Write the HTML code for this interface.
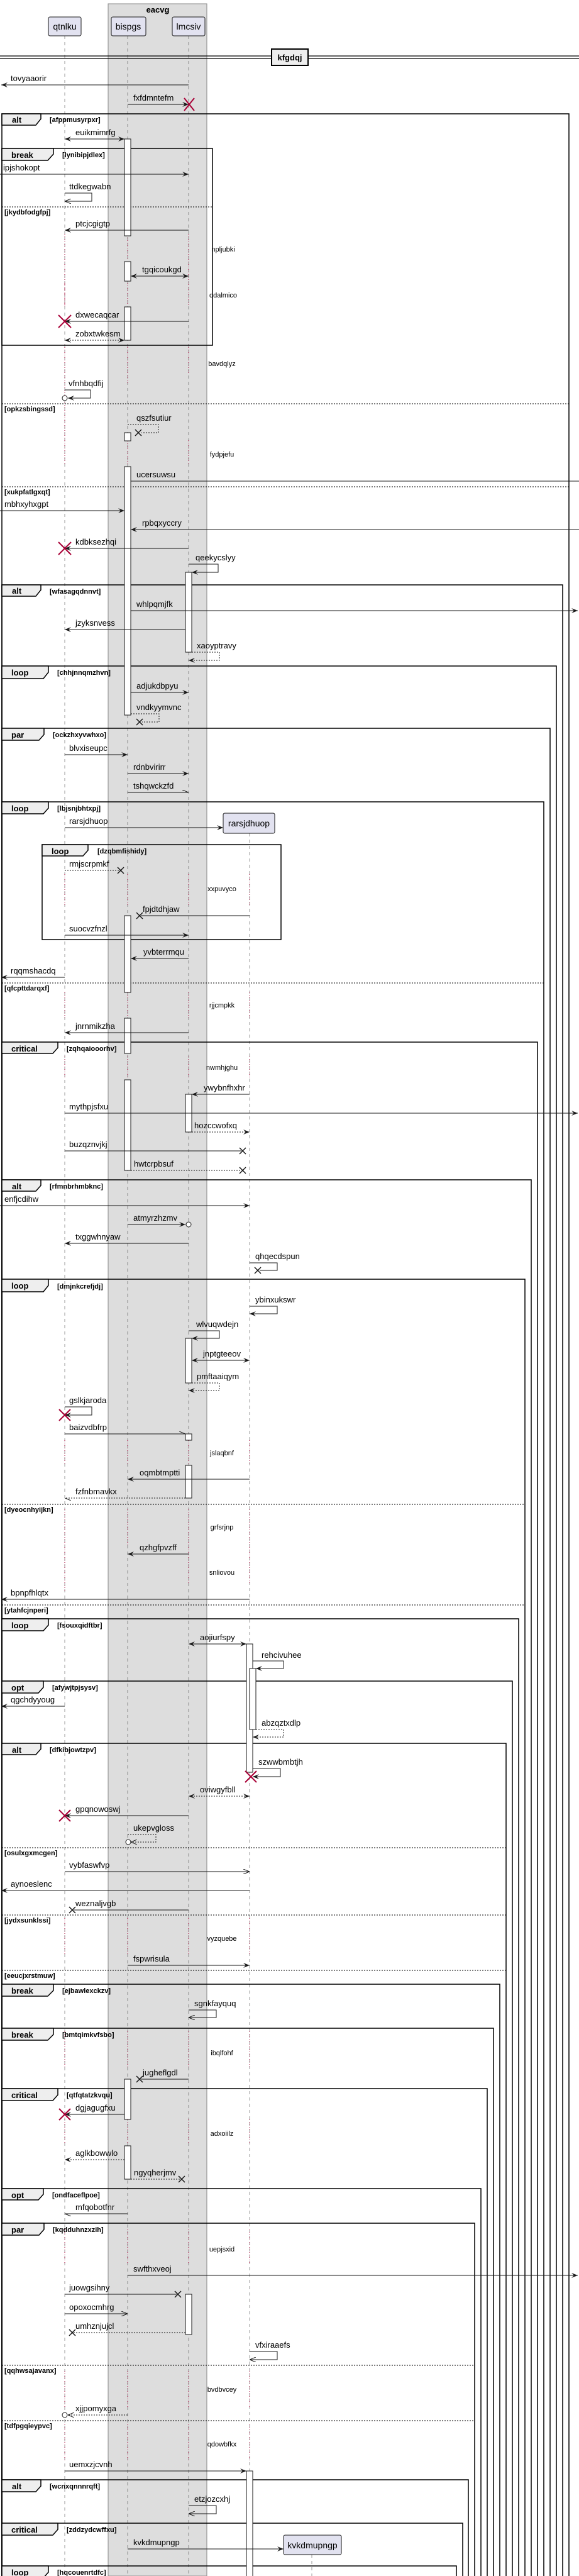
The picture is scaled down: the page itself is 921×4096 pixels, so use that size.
<!DOCTYPE html>
<html><head><meta charset="utf-8"><style>
html,body{margin:0;padding:0;background:#fff;width:921px;height:4096px;overflow:hidden}
svg{display:block;overflow:hidden}
text{font-family:"Liberation Sans",sans-serif;fill:#000}
.m{font-size:13px}
.d{font-size:11px}
.fl{font-size:13px;font-weight:bold}
.fc{font-size:11px;font-weight:bold}
.ln{stroke:#181818;stroke-width:1;fill:none}
.ds{stroke:#181818;stroke-width:1;fill:none;stroke-dasharray:2,2}
.ll{stroke:#555;stroke-width:0.6;stroke-dasharray:5,5}
.rd{stroke:#A80036;stroke-width:1;stroke-dasharray:1,3}
.fr{fill:none;stroke:#000;stroke-width:1.5}
.tab{fill:#EEEEEE;stroke:#000;stroke-width:1.5}
.sep{stroke:#000;stroke-width:1;stroke-dasharray:2,2}
.act{fill:#fff;stroke:#181818;stroke-width:1}
.xb{stroke:#181818;stroke-width:1.5}
.xr{stroke:#A80036;stroke-width:2}
</style></head><body>
<svg width="921" height="4096" viewBox="0 0 921 4096" xmlns="http://www.w3.org/2000/svg">
<defs>
<marker id="a" viewBox="0 0 10 8" refX="10" refY="4" markerWidth="10" markerHeight="8" orient="auto-start-reverse" markerUnits="userSpaceOnUse"><path d="M0,0 L10,4 L0,8 L4,4 Z" fill="#181818"/></marker>
<marker id="o" viewBox="0 0 10 8" refX="10" refY="4" markerWidth="10" markerHeight="8" orient="auto-start-reverse" markerUnits="userSpaceOnUse"><path d="M0,0 L10,4 L0,8" fill="none" stroke="#181818"/></marker>
<marker id="h" viewBox="0 0 10 8" refX="10" refY="4" markerWidth="10" markerHeight="8" orient="auto" markerUnits="userSpaceOnUse"><path d="M0,0 L10,4" fill="none" stroke="#181818"/></marker>
</defs>
<rect width="921" height="4096" fill="#fff"/>
<rect x="172" y="6" width="157" height="4090" fill="#DDDDDD" stroke="#888" stroke-width="1"/>
<text x="251" y="20" text-anchor="middle" class="fl">eacvg</text>
<line class="ll" x1="103" y1="57" x2="103" y2="4096"/>
<line class="ll" x1="203" y1="57" x2="203" y2="4096"/>
<line class="ll" x1="300" y1="57" x2="300" y2="4096"/>
<line class="ll" x1="397" y1="1325" x2="397" y2="4096"/>
<line class="ll" x1="496" y1="4062" x2="496" y2="4096"/>
<rect x="77" y="27" width="52" height="30" rx="2.5" fill="#E2E2F0" stroke="#181818"/>
<text x="103" y="47" text-anchor="middle" style="font-size:14px">qtnlku</text>
<rect x="177" y="27" width="55" height="30" rx="2.5" fill="#E2E2F0" stroke="#181818"/>
<text x="204" y="47" text-anchor="middle" style="font-size:14px">bispgs</text>
<rect x="274" y="27" width="52" height="30" rx="2.5" fill="#E2E2F0" stroke="#181818"/>
<text x="300" y="47" text-anchor="middle" style="font-size:14px">lmcsiv</text>
<rect x="355" y="1293" width="82" height="32" rx="2.5" fill="#E2E2F0" stroke="#181818"/>
<text x="396" y="1314" text-anchor="middle" style="font-size:14px">rarsjdhuop</text>
<rect x="451" y="4031" width="92" height="31" rx="2.5" fill="#E2E2F0" stroke="#181818"/>
<text x="497" y="4052" text-anchor="middle" style="font-size:14px">kvkdmupngp</text>

<line x1="0" y1="89" x2="921" y2="89" stroke="#000" stroke-width="1.2"/>
<line x1="0" y1="93" x2="921" y2="93" stroke="#000" stroke-width="1.2"/>
<rect x="432" y="78" width="58" height="26" fill="#EEEEEE" stroke="#000" stroke-width="2"/>
<text x="461" y="96" text-anchor="middle" class="fl">kfgdqj</text>

<g>
<line class="rd" x1="103" y1="372" x2="103" y2="486"/><line class="rd" x1="203" y1="378" x2="203" y2="414"/><line class="rd" x1="300" y1="372" x2="300" y2="486"/>
<line class="rd" x1="103" y1="450" x2="103" y2="490"/><line class="rd" x1="203" y1="450" x2="203" y2="486"/>
<line class="rd" x1="103" y1="548" x2="103" y2="740"/><line class="rd" x1="203" y1="548" x2="203" y2="610"/><line class="rd" x1="300" y1="548" x2="300" y2="596"/>
<line class="rd" x1="203" y1="701" x2="203" y2="740"/><line class="rd" x1="300" y1="700" x2="300" y2="740"/>
<line class="rd" x1="103" y1="1390" x2="103" y2="1440"/><line class="rd" x1="203" y1="1390" x2="203" y2="1440"/><line class="rd" x1="300" y1="1390" x2="300" y2="1440"/><line class="rd" x1="397" y1="1390" x2="397" y2="1440"/>
<line class="rd" x1="103" y1="1578" x2="103" y2="1620"/><line class="rd" x1="203" y1="1578" x2="203" y2="1618"/><line class="rd" x1="300" y1="1578" x2="300" y2="1620"/><line class="rd" x1="397" y1="1578" x2="397" y2="1620"/>
<line class="rd" x1="103" y1="1680" x2="103" y2="1715"/><line class="rd" x1="203" y1="1680" x2="203" y2="1715"/><line class="rd" x1="300" y1="1680" x2="300" y2="1715"/><line class="rd" x1="397" y1="1680" x2="397" y2="1715"/>
<line class="rd" x1="103" y1="2290" x2="103" y2="2330"/><line class="rd" x1="203" y1="2290" x2="203" y2="2330"/><line class="rd" x1="300" y1="2290" x2="300" y2="2330"/><line class="rd" x1="397" y1="2290" x2="397" y2="2330"/>
<line class="rd" x1="103" y1="2400" x2="103" y2="2530"/><line class="rd" x1="203" y1="2400" x2="203" y2="2460"/><line class="rd" x1="300" y1="2400" x2="300" y2="2520"/><line class="rd" x1="397" y1="2400" x2="397" y2="2520"/>
<line class="rd" x1="103" y1="3050" x2="103" y2="3110"/><line class="rd" x1="203" y1="3050" x2="203" y2="3110"/><line class="rd" x1="300" y1="3050" x2="300" y2="3110"/><line class="rd" x1="397" y1="3050" x2="397" y2="3110"/>
<line class="rd" x1="103" y1="3230" x2="103" y2="3290"/><line class="rd" x1="203" y1="3230" x2="203" y2="3290"/><line class="rd" x1="300" y1="3230" x2="300" y2="3290"/><line class="rd" x1="397" y1="3230" x2="397" y2="3290"/>
<line class="rd" x1="103" y1="3370" x2="103" y2="3410"/><line class="rd" x1="203" y1="3370" x2="203" y2="3410"/><line class="rd" x1="300" y1="3370" x2="300" y2="3410"/><line class="rd" x1="397" y1="3370" x2="397" y2="3410"/>
<line class="rd" x1="103" y1="3545" x2="103" y2="3600"/><line class="rd" x1="203" y1="3545" x2="203" y2="3600"/><line class="rd" x1="300" y1="3545" x2="300" y2="3600"/><line class="rd" x1="397" y1="3545" x2="397" y2="3600"/>
<line class="rd" x1="103" y1="3770" x2="103" y2="3830"/><line class="rd" x1="203" y1="3770" x2="203" y2="3830"/><line class="rd" x1="300" y1="3770" x2="300" y2="3830"/><line class="rd" x1="397" y1="3770" x2="397" y2="3830"/>
<line class="rd" x1="103" y1="3855" x2="103" y2="3915"/><line class="rd" x1="203" y1="3855" x2="203" y2="3915"/><line class="rd" x1="300" y1="3855" x2="300" y2="3915"/><line class="rd" x1="397" y1="3855" x2="397" y2="3915"/>
</g>
<g class="d" text-anchor="middle">
<text x="355" y="400">npljubki</text>
<text x="355" y="473">qdalmico</text>
<text x="353" y="582">bavdqlyz</text>
<text x="353" y="726">fydpjefu</text>
<text x="353" y="1417">xxpuvyco</text>
<text x="353" y="1602">rjjcmpkk</text>
<text x="353" y="1701">nwmhjghu</text>
<text x="353" y="2314">jslaqbnf</text>
<text x="353" y="2432">grfsrjnp</text>
<text x="353" y="2504">snliovou</text>
<text x="353" y="3086">vyzquebe</text>
<text x="353" y="3268">ibqlfohf</text>
<text x="353" y="3396">adxoiilz</text>
<text x="353" y="3580">uepjsxid</text>
<text x="353" y="3803">bvdbvcey</text>
<text x="353" y="3890">qdowbfkx</text>
</g>

<g>
<rect class="fr" x="3" y="181" width="902" height="3950"/><path class="tab" d="M3,181 H65 V189 L57,199 H3 Z"/><text class="fl" x="19" y="195">alt</text><text class="fc" x="79" y="194">[afppmusyrpxr]</text>
<line class="sep" x1="3" y1="642" x2="905" y2="642"/><text class="fc" x="7" y="654">[opkzsbingssd]</text>
<line class="sep" x1="3" y1="774" x2="905" y2="774"/><text class="fc" x="7" y="786">[xukpfatlgxqt]</text>
<rect class="fr" x="3" y="236" width="335" height="313"/><path class="tab" d="M3,236 H85 V245 L76,255 H3 Z"/><text class="fl" x="18" y="251">break</text><text class="fc" x="99" y="250">[lynibipjdlex]</text>
<line class="sep" x1="3" y1="329" x2="338" y2="329"/><text class="fc" x="7" y="341">[jkydbfodgfpj]</text>

<rect class="fr" x="3" y="930" width="892" height="3200"/><path class="tab" d="M3,930 H65 V938 L57,948 H3 Z"/><text class="fl" x="19" y="944">alt</text><text class="fc" x="79" y="944">[wfasagqdnnvt]</text>
<rect class="fr" x="3" y="1059" width="882" height="3100"/><path class="tab" d="M3,1059 H77 V1069 L69,1079 H3 Z"/><text class="fl" x="18" y="1074">loop</text><text class="fc" x="91" y="1073">[chhjnnqmzhvn]</text>
<rect class="fr" x="3" y="1158" width="872" height="3000"/><path class="tab" d="M3,1158 H70 V1168 L62,1177 H3 Z"/><text class="fl" x="18" y="1173">par</text><text class="fc" x="84" y="1172">[ockzhxyvwhxo]</text>
<rect class="fr" x="3" y="1275" width="862" height="2900"/><path class="tab" d="M3,1275 H77 V1285 L69,1294 H3 Z"/><text class="fl" x="18" y="1290">loop</text><text class="fc" x="91" y="1289">[lbjsnjbhtxpj]</text>
<line class="sep" x1="3" y1="1563" x2="865" y2="1563"/><text class="fc" x="7" y="1575">[qfcpttdarqxf]</text>
<rect class="fr" x="67" y="1343" width="380" height="151"/><path class="tab" d="M67,1343 H140 V1352 L132,1361 H67 Z"/><text class="fl" x="82" y="1358">loop</text><text class="fc" x="155" y="1357">[dzqbmfishidy]</text>
<rect class="fr" x="3" y="1657" width="852" height="2500"/><path class="tab" d="M3,1657 H92 V1666 L84,1675 H3 Z"/><text class="fl" x="18" y="1672">critical</text><text class="fc" x="106" y="1671">[zqhqaiooorhv]</text>
<rect class="fr" x="3" y="1876" width="842" height="2300"/><path class="tab" d="M3,1876 H65 V1885 L57,1894 H3 Z"/><text class="fl" x="19" y="1891">alt</text><text class="fc" x="79" y="1890">[rfmnbrhmbknc]</text>
<rect class="fr" x="3" y="2034" width="832" height="2200"/><path class="tab" d="M3,2034 H77 V2044 L69,2054 H3 Z"/><text class="fl" x="18" y="2049">loop</text><text class="fc" x="91" y="2049">[dmjnkcrefjdj]</text>
<line class="sep" x1="3" y1="2392" x2="835" y2="2392"/><text class="fc" x="7" y="2404">[dyeocnhyijkn]</text>
<line class="sep" x1="3" y1="2552" x2="835" y2="2552"/><text class="fc" x="7" y="2564">[ytahfcjnperi]</text>
<rect class="fr" x="3" y="2574" width="822" height="1600"/><path class="tab" d="M3,2574 H77 V2584 L69,2593 H3 Z"/><text class="fl" x="18" y="2589">loop</text><text class="fc" x="91" y="2588">[fsouxqidftbr]</text>
<rect class="fr" x="3" y="2673" width="812" height="1500"/><path class="tab" d="M3,2673 H69 V2683 L61,2692 H3 Z"/><text class="fl" x="18" y="2688">opt</text><text class="fc" x="83" y="2687">[afywjtpjsysv]</text>
<rect class="fr" x="3" y="2772" width="802" height="1400"/><path class="tab" d="M3,2772 H65 V2781 L57,2790 H3 Z"/><text class="fl" x="19" y="2787">alt</text><text class="fc" x="79" y="2786">[dfkibjowtzpv]</text>
<line class="sep" x1="3" y1="2938" x2="805" y2="2938"/><text class="fc" x="7" y="2950">[osulxgxmcgen]</text>
<line class="sep" x1="3" y1="3045" x2="805" y2="3045"/><text class="fc" x="7" y="3057">[jydxsunklssi]</text>
<line class="sep" x1="3" y1="3133" x2="805" y2="3133"/><text class="fc" x="7" y="3145">[eeucjxrstmuw]</text>
<rect class="fr" x="3" y="3155" width="792" height="1000"/><path class="tab" d="M3,3155 H85 V3165 L76,3174 H3 Z"/><text class="fl" x="18" y="3170">break</text><text class="fc" x="99" y="3169">[ejbawlexckzv]</text>
<rect class="fr" x="3" y="3225" width="782" height="1000"/><path class="tab" d="M3,3225 H85 V3235 L76,3244 H3 Z"/><text class="fl" x="18" y="3240">break</text><text class="fc" x="99" y="3239">[bmtqimkvfsbo]</text>
<rect class="fr" x="3" y="3321" width="772" height="900"/><path class="tab" d="M3,3321 H92 V3331 L84,3340 H3 Z"/><text class="fl" x="18" y="3336">critical</text><text class="fc" x="106" y="3335">[qtfqtatzkvqu]</text>
<rect class="fr" x="3" y="3480" width="762" height="700"/><path class="tab" d="M3,3480 H69 V3489 L61,3498 H3 Z"/><text class="fl" x="18" y="3495">opt</text><text class="fc" x="83" y="3494">[ondfaceflpoe]</text>
<rect class="fr" x="3" y="3535" width="752" height="700"/><path class="tab" d="M3,3535 H70 V3545 L62,3554 H3 Z"/><text class="fl" x="18" y="3550">par</text><text class="fc" x="84" y="3549">[kqdduhnzxzih]</text>
<line class="sep" x1="3" y1="3761" x2="755" y2="3761"/><text class="fc" x="7" y="3773">[qqhwsajavanx]</text>
<line class="sep" x1="3" y1="3849" x2="755" y2="3849"/><text class="fc" x="7" y="3861">[tdfpgqieypvc]</text>
<rect class="fr" x="3" y="3943" width="742" height="200"/><path class="tab" d="M3,3943 H65 V3953 L57,3962 H3 Z"/><text class="fl" x="19" y="3958">alt</text><text class="fc" x="79" y="3957">[wcnxqnnnrqft]</text>
<rect class="fr" x="3" y="4012" width="733" height="150"/><path class="tab" d="M3,4012 H92 V4022 L84,4031 H3 Z"/><text class="fl" x="18" y="4027">critical</text><text class="fc" x="106" y="4026">[zddzydcwffxu]</text>
<rect class="fr" x="3" y="4080" width="723" height="80"/><path class="tab" d="M3,4080 H77 V4090 L69,4099 H3 Z"/><text class="fl" x="18" y="4095">loop</text><text class="fc" x="91" y="4094">[hqcouenrtdfc]</text>
</g>

<g>
<rect class="act" x="198" y="221" width="10" height="154"/>
<rect class="act" x="198" y="416" width="10" height="31"/>
<rect class="act" x="198" y="488" width="10" height="53"/>
<rect class="act" x="198" y="688" width="10" height="13"/>
<rect class="act" x="198" y="742" width="10" height="395"/>
<rect class="act" x="198" y="1456" width="10" height="122"/>
<rect class="act" x="198" y="1619" width="10" height="56"/>
<rect class="act" x="198" y="1717" width="10" height="144"/>
<rect class="act" x="198" y="3306" width="10" height="64"/>
<rect class="act" x="198" y="3412" width="10" height="53"/>
<rect class="act" x="295" y="910" width="10" height="127"/>
<rect class="act" x="295" y="1740" width="10" height="60"/>
<rect class="act" x="295" y="2128" width="10" height="71"/>
<rect class="act" x="295" y="2280" width="10" height="10"/>
<rect class="act" x="295" y="2330" width="10" height="52"/>
<rect class="act" x="295" y="3648" width="10" height="64"/>
<rect class="act" x="392" y="2614" width="10" height="204"/>
<rect class="act" x="397" y="2653" width="10" height="97"/>
<rect class="act" x="392" y="3929" width="10" height="180"/>
</g>

<g class="m">
<line class="ln" x1="300" y1="135" x2="2" y2="135" marker-end="url(#a)"/><text x="17" y="129">tovyaaorir</text>
<line class="ln" x1="203" y1="166" x2="300" y2="166" marker-end="url(#a)"/><text x="212" y="160">fxfdmntefm</text>
<line class="ln" x1="103" y1="221" x2="198" y2="221" marker-start="url(#a)" marker-end="url(#a)"/><text x="120" y="215">euikmimrfg</text>
<line class="ln" x1="0" y1="277" x2="300" y2="277" marker-end="url(#a)"/><text x="5" y="271">ipjshokopt</text>
<path class="ln" d="M103,307 H146 V320 H103" marker-end="url(#o)"/><text x="110" y="301">ttdkegwabn</text>
<line class="ln" x1="300" y1="366" x2="103" y2="366" marker-end="url(#a)"/><text x="120" y="360">ptcjcgigtp</text>
<line class="ln" x1="208" y1="439" x2="300" y2="439" marker-start="url(#a)" marker-end="url(#a)"/><text x="226" y="433">tgqicoukgd</text>
<line class="ln" x1="300" y1="511" x2="103" y2="511" marker-end="url(#a)"/><text x="120" y="505">dxwecaqcar</text>
<line class="ds" x1="103" y1="541" x2="198" y2="541" marker-start="url(#a)" marker-end="url(#a)"/><text x="120" y="535">zobxtwkesm</text>
<path class="ln" d="M103,620 H144 V633 H108" marker-end="url(#a)"/><circle cx="103" cy="633" r="4" fill="#fff" stroke="#181818"/><text x="109" y="614">vfnhbqdfij</text>
<path class="ds" d="M203,675 H252 V688 H225"/><text x="217" y="669">qszfsutiur</text>
<line class="ln" x1="208" y1="765" x2="921" y2="765"/><text x="217" y="759">ucersuwsu</text>
<line class="ln" x1="0" y1="812" x2="198" y2="812" marker-end="url(#a)"/><text x="7" y="806">mbhxyhxgpt</text>
<line class="ln" x1="921" y1="842" x2="208" y2="842" marker-end="url(#a)"/><text x="226" y="836">rpbqxyccry</text>
<line class="ln" x1="300" y1="872" x2="103" y2="872" marker-end="url(#a)"/><text x="120" y="866">kdbksezhqi</text>
<path class="ln" d="M300,897 H347 V910 H305" marker-end="url(#a)"/><text x="311" y="891">qeekycslyy</text>
<line class="ln" x1="208" y1="971" x2="919" y2="971" marker-end="url(#a)"/><text x="217" y="965">whlpqmjfk</text>
<line class="ln" x1="295" y1="1001" x2="103" y2="1001" marker-end="url(#a)"/><text x="120" y="995">jzyksnvess</text>
<path class="ds" d="M305,1037 H349 V1050 H300" marker-end="url(#a)"/><text x="313" y="1031">xaoyptravy</text>
<line class="ln" x1="208" y1="1101" x2="300" y2="1101" marker-end="url(#a)"/><text x="217" y="1095">adjukdbpyu</text>
<path class="ds" d="M208,1135 H253 V1148 H226"/><text x="217" y="1129">vndkyymvnc</text>
<line class="ln" x1="103" y1="1200" x2="203" y2="1200" marker-end="url(#a)"/><text x="110" y="1194">blvxiseupc</text>
<line class="ln" x1="203" y1="1230" x2="300" y2="1230" marker-end="url(#a)"/><text x="212" y="1224">rdnbvirirr</text>
<line class="ln" x1="203" y1="1260" x2="300" y2="1260" marker-end="url(#h)"/><text x="212" y="1254">tshqwckzfd</text>
<line class="ln" x1="103" y1="1316" x2="355" y2="1316" marker-end="url(#a)"/><text x="110" y="1310">rarsjdhuop</text>
<line class="ds" x1="103" y1="1384" x2="190" y2="1384"/><text x="110" y="1378">rmjscrpmkf</text>
<line class="ln" x1="397" y1="1456" x2="224" y2="1456"/><text x="227" y="1450">fpjdtdhjaw</text>
<line class="ln" x1="103" y1="1487" x2="300" y2="1487" marker-end="url(#a)"/><text x="110" y="1481">suocvzfnzl</text>
<line class="ln" x1="300" y1="1524" x2="208" y2="1524" marker-end="url(#a)"/><text x="228" y="1518">yvbterrmqu</text>
<line class="ln" x1="103" y1="1554" x2="2" y2="1554" marker-end="url(#a)"/><text x="17" y="1548">rqqmshacdq</text>
<line class="ln" x1="300" y1="1642" x2="103" y2="1642" marker-end="url(#a)"/><text x="120" y="1636">jnrnmikzha</text>
<line class="ln" x1="397" y1="1740" x2="305" y2="1740" marker-end="url(#a)"/><text x="324" y="1734">ywybnfhxhr</text>
<line class="ln" x1="103" y1="1770" x2="919" y2="1770" marker-end="url(#a)"/><text x="110" y="1764">mythpjsfxu</text>
<line class="ds" x1="305" y1="1800" x2="397" y2="1800" marker-end="url(#a)"/><text x="309" y="1794">hozccwofxq</text>
<line class="ln" x1="103" y1="1830" x2="384" y2="1830"/><text x="110" y="1824">buzqznvjkj</text>
<line class="ds" x1="208" y1="1861" x2="384" y2="1861"/><text x="213" y="1855">hwtcrpbsuf</text>
<line class="ln" x1="0" y1="1917" x2="397" y2="1917" marker-end="url(#a)"/><text x="7" y="1911">enfjcdihw</text>
<line class="ln" x1="203" y1="1947" x2="295" y2="1947" marker-end="url(#a)"/><circle cx="300" cy="1947" r="4" fill="#fff" stroke="#181818"/><text x="212" y="1941">atmyrzhzmv</text>
<line class="ln" x1="300" y1="1977" x2="103" y2="1977" marker-end="url(#a)"/><text x="120" y="1971">txggwhnyaw</text>
<path class="ln" d="M397,2008 H441 V2020 H413"/><text x="406" y="2002">qhqecdspun</text>
<path class="ln" d="M397,2077 H441 V2089 H397" marker-end="url(#a)"/><text x="406" y="2071">ybinxukswr</text>
<path class="ln" d="M300,2116 H349 V2128 H305" marker-end="url(#a)"/><text x="312" y="2110">wlvuqwdejn</text>
<line class="ln" x1="305" y1="2163" x2="397" y2="2163" marker-start="url(#a)" marker-end="url(#a)"/><text x="323" y="2157">jnptgteeov</text>
<path class="ds" d="M305,2199 H349 V2211 H300" marker-end="url(#a)"/><text x="313" y="2193">pmftaaiqym</text>
<path class="ln" d="M103,2237 H146 V2250 H103" marker-end="url(#a)"/><text x="110" y="2231">gslkjaroda</text>
<line class="ln" x1="103" y1="2280" x2="295" y2="2280" marker-end="url(#h)"/><text x="110" y="2274">baizvdbfrp</text>
<line class="ln" x1="397" y1="2352" x2="203" y2="2352" marker-end="url(#a)"/><text x="222" y="2346">oqmbtmptti</text>
<line class="ds" x1="295" y1="2382" x2="103" y2="2382" marker-end="url(#h)"/><text x="120" y="2376">fzfnbmavkx</text>
<line class="ln" x1="300" y1="2471" x2="203" y2="2471" marker-end="url(#a)"/><text x="222" y="2465">qzhgfpvzff</text>
<line class="ln" x1="397" y1="2543" x2="2" y2="2543" marker-end="url(#a)"/><text x="17" y="2537">bpnpfhlqtx</text>
<line class="ln" x1="300" y1="2614" x2="392" y2="2614" marker-start="url(#a)" marker-end="url(#a)"/><text x="318" y="2608">aojiurfspy</text>
<path class="ln" d="M402,2641 H451 V2653 H407" marker-end="url(#a)"/><text x="416" y="2636">rehcivuhee</text>
<line class="ln" x1="103" y1="2713" x2="2" y2="2713" marker-end="url(#a)"/><text x="17" y="2707">qgchdyyoug</text>
<path class="ds" d="M407,2750 H451 V2762 H402" marker-end="url(#a)"/><text x="416" y="2744">abzqztxdlp</text>
<path class="ln" d="M402,2812 H446 V2825 H402" marker-end="url(#a)"/><text x="411" y="2806">szwwbmbtjh</text>
<line class="ds" x1="300" y1="2856" x2="397" y2="2856" marker-start="url(#a)" marker-end="url(#a)"/><text x="318" y="2850">oviwgyfbll</text>
<line class="ln" x1="300" y1="2887" x2="103" y2="2887" marker-end="url(#a)"/><text x="120" y="2881">gpqnowoswj</text>
<path class="ds" d="M203,2917 H248 V2929 H208" marker-end="url(#o)"/><circle cx="204" cy="2929" r="4" fill="#fff" stroke="#181818"/><text x="212" y="2911">ukepvgloss</text>
<line class="ln" x1="103" y1="2976" x2="397" y2="2976" marker-end="url(#o)"/><text x="110" y="2970">vybfaswfvp</text>
<line class="ln" x1="397" y1="3006" x2="2" y2="3006" marker-end="url(#a)"/><text x="17" y="3000">aynoeslenc</text>
<line class="ln" x1="300" y1="3037" x2="117" y2="3037"/><text x="120" y="3031">weznaljvgb</text>
<line class="ln" x1="203" y1="3125" x2="397" y2="3125" marker-end="url(#a)"/><text x="212" y="3119">fspwrisula</text>
<path class="ln" d="M300,3196 H344 V3208 H300" marker-end="url(#o)"/><text x="309" y="3190">sgnkfayquq</text>
<line class="ln" x1="300" y1="3306" x2="224" y2="3306"/><text x="227" y="3300">jugheflgdl</text>
<line class="ln" x1="198" y1="3362" x2="103" y2="3362" marker-end="url(#a)"/><text x="120" y="3356">dgjagugfxu</text>
<line class="ds" x1="198" y1="3434" x2="103" y2="3434" marker-end="url(#a)"/><text x="120" y="3428">aglkbowwlo</text>
<line class="ds" x1="208" y1="3465" x2="287" y2="3465"/><text x="213" y="3459">ngyqherjmv</text>
<line class="ln" x1="203" y1="3520" x2="103" y2="3520" marker-end="url(#h)"/><text x="120" y="3514">mfqobotfnr</text>
<line class="ln" x1="203" y1="3618" x2="919" y2="3618" marker-end="url(#a)"/><text x="212" y="3612">swfthxveoj</text>
<line class="ln" x1="103" y1="3648" x2="281" y2="3648"/><text x="110" y="3642">juowgsihny</text>
<line class="ln" x1="103" y1="3679" x2="203" y2="3679" marker-end="url(#o)"/><text x="110" y="3673">opoxocmhrg</text>
<line class="ds" x1="295" y1="3709" x2="117" y2="3709"/><text x="120" y="3703">umhznjujcl</text>
<path class="ln" d="M397,3739 H441 V3752 H397" marker-end="url(#o)"/><text x="406" y="3733">vfxiraaefs</text>
<line class="ds" x1="203" y1="3840" x2="108" y2="3840" marker-end="url(#o)"/><circle cx="103" cy="3840" r="4" fill="#fff" stroke="#181818"/><text x="120" y="3834">xjjpomyxga</text>
<line class="ln" x1="103" y1="3929" x2="392" y2="3929" marker-end="url(#a)"/><text x="110" y="3923">uemxzjcvnh</text>
<path class="ln" d="M300,3984 H344 V3997 H300" marker-end="url(#o)"/><text x="309" y="3978">etzjozcxhj</text>
<line class="ln" x1="203" y1="4053" x2="451" y2="4053" marker-end="url(#a)"/><text x="212" y="4047">kvkdmupngp</text>
</g>

<g>
<path class="xr" d="M293,156 L309,176 M309,156 L293,176"/>
<path class="xb" d="M215,683 L225,693 M225,683 L215,693"/>
<path class="xr" d="M93,501 L113,521 M113,501 L93,521"/>
<path class="xr" d="M93,862 L113,882 M113,862 L93,882"/>
<path class="xb" d="M217,1143 L227,1153 M227,1143 L217,1153"/>
<path class="xb" d="M187,1379 L197,1389 M197,1379 L187,1389"/>
<path class="xb" d="M217,1451 L227,1461 M227,1451 L217,1461"/>
<path class="xb" d="M381,1825 L391,1835 M391,1825 L381,1835"/>
<path class="xb" d="M381,1856 L391,1866 M391,1856 L381,1866"/>
<path class="xb" d="M405,2015 L415,2025 M415,2015 L405,2025"/>
<path class="xr" d="M94,2241 L112,2259 M112,2241 L94,2259"/>
<path class="xr" d="M390,2816 L408,2834 M408,2816 L390,2834"/>
<path class="xr" d="M94,2878 L112,2896 M112,2878 L94,2896"/>
<path class="xb" d="M110,3032 L120,3042 M120,3032 L110,3042"/>
<path class="xb" d="M217,3301 L227,3311 M227,3301 L217,3311"/>
<path class="xr" d="M94,3353 L112,3371 M112,3353 L94,3371"/>
<path class="xb" d="M284,3460 L294,3470 M294,3460 L284,3470"/>
<path class="xb" d="M278,3643 L288,3653 M288,3643 L278,3653"/>
<path class="xb" d="M110,3704 L120,3714 M120,3704 L110,3714"/>
</g>
</svg>
</body></html>
